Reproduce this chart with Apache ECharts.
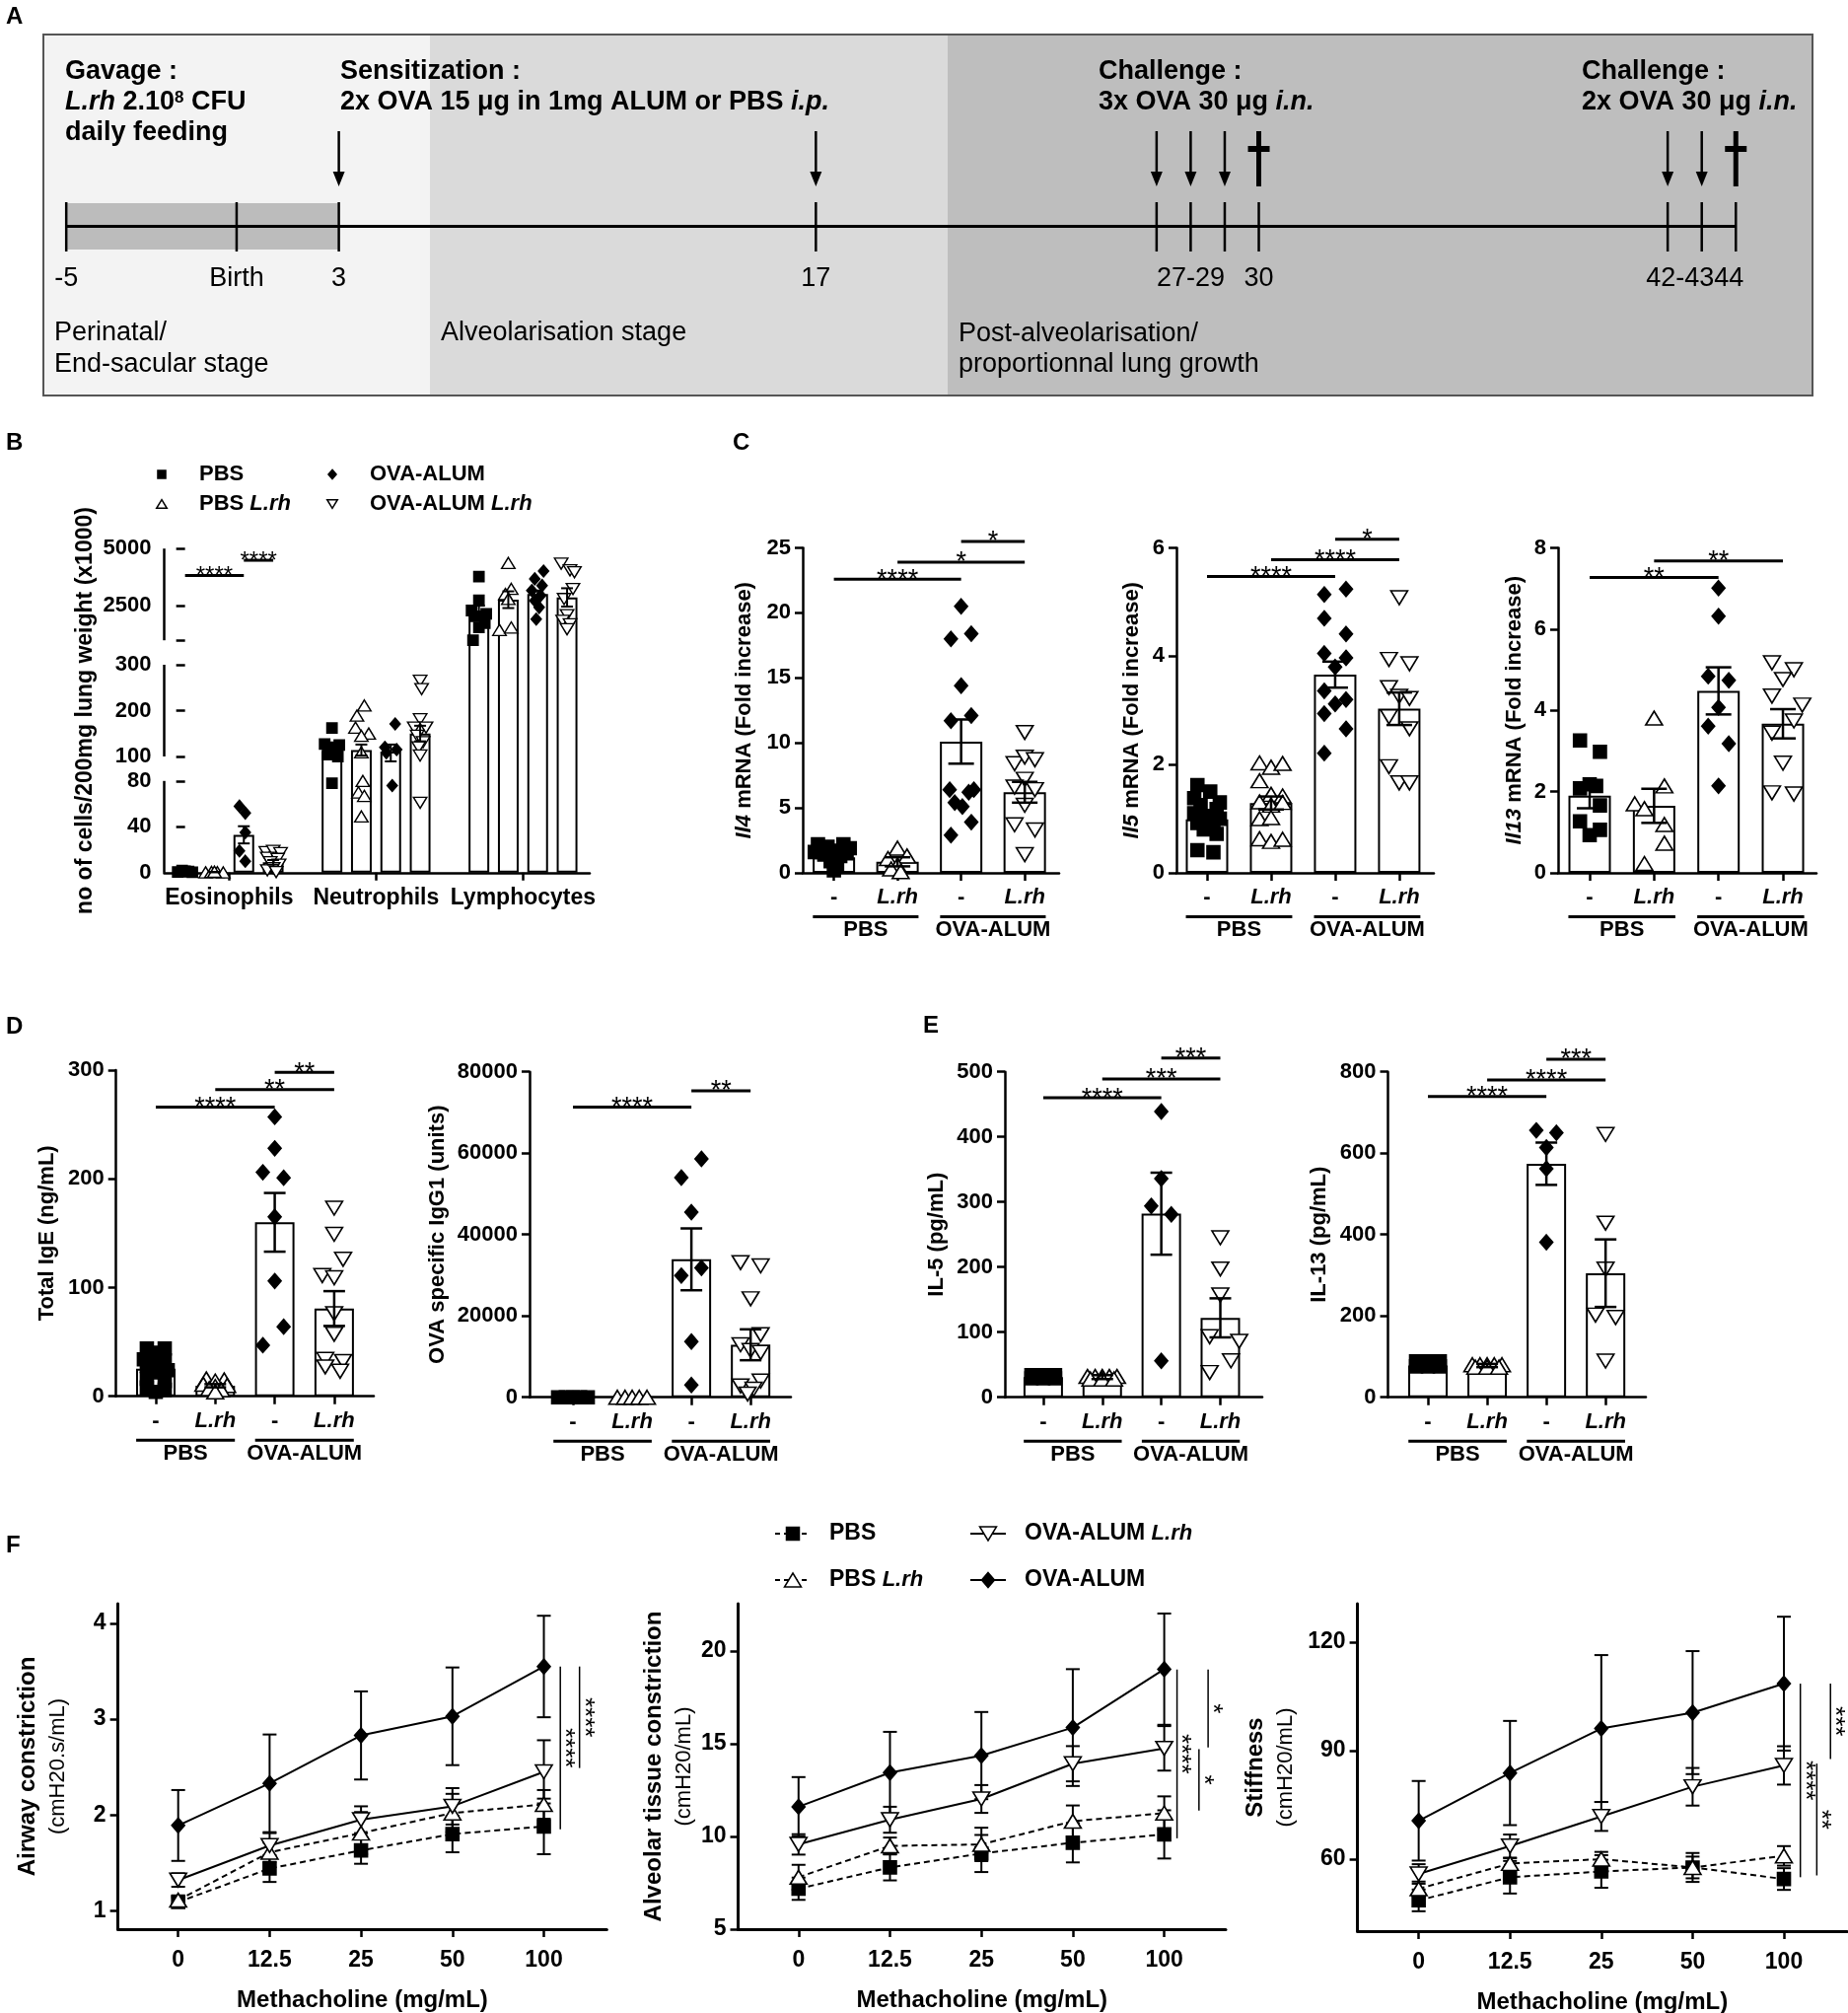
<!DOCTYPE html>
<html>
<head>
<meta charset="utf-8">
<title>Figure</title>
<script src="https://cdn.jsdelivr.net/npm/echarts@6.0.0/dist/echarts.min.js"></script>
<style>
  html, body { margin: 0; padding: 0; background: #fff; }
  #fig { width: 1874px; height: 2041px; }
</style>
</head>
<body>
<div id="fig"></div>
<script>
const FONT = '"Liberation Sans", Arial, Helvetica, sans-serif';

// ---------------- A : timeline (days) ----------------
const aTickDays = [-5, 0, 3, 17, 27, 28, 29, 30, 42, 43, 44];
const aArrowDays = [3, 17, 27, 28, 29, 42, 43];
const aDaggerDays = [30, 44];
const aLabelDays = [-5, 0, 3, 17, 28, 30, 42.8];
const aLabels = ['-5', 'Birth', '3', '17', '27-29', '30', '42-4344'];

// ---------------- B : cell counts (x1000) ----------------
const bCells = ['Eosinophils', 'Neutrophils', 'Lymphocytes'];
const bMeanPBS = [1, 112, 2290];
const bMeanPBSLrh = [0.5, 114, 2770];
const bMeanOVA = [33, 111, 3020];
const bMeanOVALrh = [9, 150, 2870];
const bSemPBS = [0.3, 9, 220];
const bSemPBSLrh = [0.2, 12, 365];
const bSemOVA = [7.5, 15, 150];
const bSemOVALrh = [2, 17, 400];
const bPtsPBS = [
  [[-0.25, 0.6], [0, 1.2], [0.25, 0.4], [-0.1, 1.8], [0.12, 0.9]],
  [[0, 162], [-0.25, 127], [0.25, 125], [0, 120], [-0.15, 104], [0.2, 100], [0, 78]],
  [[0, 3780], [0, 2740], [-0.25, 2300], [0.25, 2150], [-0.1, 2050], [0.2, 1750], [0, 1560], [-0.2, 1000]]
];
const bPtsPBSLrh = [
  [[-0.3, 0.3], [-0.1, 0.6], [0.1, 0.4], [0.3, 0.2], [0, 0.8]],
  [[0.1, 211], [-0.15, 189], [-0.2, 163], [0.25, 150], [0, 145], [0, 109], [0.05, 80], [-0.1, 70], [0.1, 67], [0, 49]],
  [[0, 4370], [0.1, 3240], [-0.1, 3020], [0, 2800], [-0.3, 1450], [0.1, 1560]]
];
const bPtsOVA = [
  [[-0.15, 58], [0.05, 52], [0.05, 35], [-0.15, 19], [0.05, 10]],
  [[0.15, 171], [-0.2, 120], [0.2, 115], [-0.15, 108], [0.05, 76]],
  [[0.2, 4018], [-0.1, 3680], [0.15, 3390], [-0.2, 3170], [0.1, 2950], [-0.1, 2730], [0.05, 2435], [-0.05, 1920]]
];
const bPtsOVALrh = [
  [[-0.25, 18], [0, 19], [0.25, 17], [-0.2, 13], [0.15, 12], [-0.1, 9], [0.2, 7], [0, 4], [-0.2, 2], [0.1, 0.5]],
  [[0, 265], [0.05, 247], [0, 181], [-0.2, 163], [0.2, 163], [-0.1, 145], [0.1, 131], [-0.05, 120], [0, 102], [0, 61]],
  [[-0.2, 4340], [0.1, 4050], [0.25, 3970], [0.2, 3240], [-0.1, 2800], [0, 2100], [-0.15, 1850], [0.1, 1700], [0, 1480]]
];
const bSig = [[0, 2, 3830, '****'], [2, 3, 4490, '****']];
const bTickVals = [0, 40, 80, 100, 200, 300, 1000, 2500, 5000];
const bLabelVals = [0, 40, 80, 100, 200, 300, 2500, 5000];

// ---------------- C : mRNA ----------------
const barLabels = ['-', 'L.rh', '-', 'L.rh'];
const barGroups = [[0, 1, 'PBS'], [2, 3, 'OVA-ALUM']];

const cIl4Mean = [1.2, 0.85, 10.1, 6.2];
const cIl4Sem = [0.15, 0.35, 1.7, 0.8];
const cIl4PBS = [[-0.25, 2.2], [0.15, 2.2], [-0.1, 2.0], [0.25, 1.9], [-0.3, 1.6], [0, 1.7], [0.2, 1.5], [-0.15, 1.4], [0.1, 1.3], [0, 1.1], [-0.05, 0.9], [0.05, 0.6], [0, 0.2]];
const cIl4PBSLrh = [[0, 1.9], [0.15, 1.3], [-0.15, 1.1], [0, 0.6], [-0.1, 0.3], [0.05, 0.1]];
const cIl4OVA = [[0, 20.5], [-0.16, 18.0], [0.16, 18.4], [0, 14.4], [-0.16, 11.7], [0.16, 12.1], [-0.18, 6.4], [0.12, 6.2], [0.2, 6.4], [-0.1, 5.4], [0.02, 5.1], [0.16, 3.9], [-0.16, 2.9]];
const cIl4OVALrh = [[0, 10.8], [-0.16, 8.4], [0, 8.9], [0.16, 8.7], [0, 7.2], [-0.16, 6.6], [0.16, 6.4], [0, 5.2], [-0.16, 3.7], [0.16, 3.3], [0, 1.4]];
const cIl4Sig = [[0, 2, 22.6, '****'], [1, 3, 23.9, '*'], [2, 3, 25.5, '*']];

const cIl5Mean = [0.99, 1.29, 3.66, 3.03];
const cIl5Sem = [0.08, 0.12, 0.24, 0.3];
const cIl5PBS = [[-0.15, 1.62], [0.05, 1.5], [-0.2, 1.38], [0.2, 1.3], [-0.1, 1.25], [0.15, 1.18], [-0.2, 1.1], [0, 1.05], [0.2, 1.0], [-0.15, 0.92], [0.1, 0.86], [-0.05, 0.8], [0.15, 0.72], [-0.15, 0.42], [0.1, 0.38]];
const cIl5PBSLrh = [[-0.18, 2.03], [0, 1.95], [0.18, 2.02], [-0.18, 1.7], [0, 1.45], [0.18, 1.42], [-0.18, 1.31], [0, 1.25], [0.18, 1.3], [-0.18, 1.0], [0, 1.02], [-0.18, 0.63], [0, 0.58], [0.18, 0.62]];
const cIl5OVA = [[-0.17, 5.14], [0.17, 5.24], [-0.17, 4.7], [0.17, 4.41], [-0.17, 4.05], [0.17, 3.97], [0, 3.8], [-0.17, 3.36], [0, 3.12], [0.17, 3.2], [-0.17, 2.94], [0.17, 2.66], [-0.17, 2.21]];
const cIl5OVALrh = [[0, 5.08], [-0.16, 3.94], [0.16, 3.86], [-0.16, 3.42], [0, 3.26], [0.16, 3.22], [-0.16, 2.88], [0.16, 2.66], [-0.16, 1.96], [0, 1.66], [0.16, 1.66]];
const cIl5Sig = [[0, 2, 5.47, '****'], [1, 3, 5.78, '****'], [2, 3, 6.16, '*']];

const cIl13Mean = [1.9, 1.65, 4.48, 3.67];
const cIl13Sem = [0.31, 0.42, 0.58, 0.36];
const cIl13PBS = [[-0.15, 3.26], [0.16, 2.98], [-0.15, 2.08], [0, 2.18], [0.1, 2.14], [0.16, 1.66], [-0.15, 1.27], [0.16, 1.06], [0, 0.93]];
const cIl13PBSLrh = [[0, 3.81], [0.16, 2.14], [-0.3, 1.7], [-0.15, 1.58], [0.16, 1.19], [0.16, 0.73], [-0.15, 0.23]];
const cIl13OVA = [[0, 7.01], [0, 6.32], [-0.16, 4.84], [0.16, 4.74], [0, 4.07], [-0.16, 3.61], [0.16, 3.18], [0, 2.14]];
const cIl13OVALrh = [[-0.17, 5.17], [0.17, 5.0], [0, 4.76], [-0.17, 4.35], [0.3, 4.13], [0.17, 3.74], [-0.17, 3.44], [0, 2.7], [-0.17, 1.97], [0.17, 1.94]];
const cIl13Sig = [[0, 2, 7.27, '**'], [1, 3, 7.68, '**']];

// ---------------- D : immunoglobulins ----------------
const dIgEMean = [25.4, 9.7, 160, 80.7];
const dIgESem = [4, 1.5, 27, 16];
const dIgEPBS = [[-0.15, 44], [0.15, 44], [0, 40], [-0.2, 34], [0.15, 33], [0, 30], [-0.15, 28], [0.2, 24], [0, 22], [-0.15, 16], [0.15, 14], [-0.15, 8], [0.15, 6], [0, 4]];
const dIgEPBSLrh = [[-0.15, 16], [0.15, 15], [0, 14], [-0.2, 11], [0.2, 10], [0, 9], [-0.1, 7], [0.1, 6], [0, 4]];
const dIgEOVA = [[0, 257], [0, 228], [-0.2, 206], [0.15, 201], [0, 165], [0, 106], [0.15, 64], [-0.2, 47]];
const dIgEOVALrh = [[0, 173], [0, 149], [0.15, 126], [-0.2, 111], [0, 109], [0, 76], [0, 57], [-0.15, 34], [0.15, 32], [-0.15, 27], [0.1, 23]];
const dIgESig = [[0, 2, 266, '****'], [1, 3, 282, '**'], [2, 3, 298, '**']];

const dIgG1Mean = [0, 0, 33900, 12900];
const dIgG1Sem = [0, 0, 7600, 3800];
const dIgG1PBS = [[-0.25, 0], [-0.12, 0], [0, 0], [0.12, 0], [0.25, 0]];
const dIgG1PBSLrh = [[-0.25, 0], [-0.12, 0], [0, 0], [0.12, 0], [0.25, 0]];
const dIgG1OVA = [[0.17, 58600], [-0.17, 54000], [0, 45500], [0.17, 31800], [-0.17, 29900], [0, 13700], [0, 3000]];
const dIgG1OVALrh = [[-0.17, 33100], [0.17, 32300], [0, 24200], [0.17, 15400], [-0.17, 12900], [0, 11500], [0.17, 11000], [0.17, 4000], [-0.17, 2800], [0.05, 2000], [-0.05, 800]];
const dIgG1Sig = [[0, 2, 71350, '****'], [2, 3, 75310, '**']];

// ---------------- E : cytokines ----------------
const eIl5Mean = [31, 31, 282, 122];
const eIl5Sem = [3, 3, 63, 30];
const eIl5PBS = [[-0.2, 34], [0, 34], [0.2, 34], [-0.2, 29], [0, 29], [0.2, 29]];
const eIl5PBSLrh = [[-0.25, 32], [-0.12, 32], [0, 32], [0.12, 32], [0.25, 32], [-0.2, 28], [0, 28], [0.2, 28]];
const eIl5OVA = [[0, 439], [0, 336], [-0.17, 294], [0.17, 281], [0, 56]];
const eIl5OVALrh = [[0, 245], [0, 197], [0, 157], [-0.18, 93], [0.32, 86], [0.18, 56], [-0.18, 38]];
const eIl5Sig = [[0, 2, 460, '****'], [1, 3, 489, '***'], [2, 3, 521, '***']];

const eIl13Mean = [78, 78, 574, 305];
const eIl13Sem = [4, 4, 52, 83];
const eIl13PBS = [[-0.2, 88], [0, 88], [0.2, 88], [-0.2, 76], [0, 76], [0.2, 76]];
const eIl13PBSLrh = [[-0.25, 80], [-0.12, 80], [0, 80], [0.12, 80], [0.25, 80], [-0.2, 74], [0, 74], [0.2, 74]];
const eIl13OVA = [[-0.17, 656], [0.17, 650], [0, 614], [0, 562], [0, 381]];
const eIl13OVALrh = [[0, 646], [0, 428], [0, 315], [-0.17, 202], [0.17, 196], [0, 89]];
const eIl13Sig = [[0, 2, 739, '****'], [1, 3, 780, '****'], [2, 3, 831, '***']];

// ---------------- F : lung function ----------------
const fDoses = ['0', '12.5', '25', '50', '100'];
const fAirPBS = [1.09, 1.44, 1.63, 1.80, 1.88];
const fAirPBSSem = [0.05, 0.14, 0.14, 0.19, 0.29];
const fAirPBSLrh = [1.11, 1.61, 1.81, 2.02, 2.11];
const fAirPBSLrhSem = [0.05, 0.10, 0.22, 0.20, 0.15];
const fAirOVALrh = [1.32, 1.68, 1.95, 2.09, 2.45];
const fAirOVALrhSem = [0.07, 0.13, 0.14, 0.19, 0.33];
const fAirOVA = [1.89, 2.33, 2.83, 3.03, 3.55];
const fAirOVASem = [0.37, 0.51, 0.46, 0.51, 0.53];
const fAirSig = [[4.18, 3.55, 1.85, '****'], [4.39, 3.55, 2.49, '****']];

const fAlvPBS = [7.18, 8.33, 9.08, 9.66, 10.11];
const fAlvPBSSem = [0.6, 0.7, 1.0, 1.06, 1.3];
const fAlvPBSLrh = [7.8, 9.49, 9.57, 10.82, 11.26];
const fAlvPBSLrhSem = [0.67, 0.45, 0.9, 0.85, 0.9];
const fAlvOVALrh = [9.57, 10.9, 12.02, 13.92, 14.75];
const fAlvOVALrhSem = [0.55, 0.7, 0.75, 0.95, 1.2];
const fAlvOVA = [11.6, 13.44, 14.36, 15.87, 19.02];
const fAlvOVASem = [1.6, 2.2, 2.35, 3.15, 3.0];
const fAlvSig = [[4.14, 19.0, 9.9, '****'], [4.48, 19.0, 14.8, '*'], [4.38, 14.7, 11.4, '*']];

const fStiPBS = [48.6, 55, 56.6, 57.7, 54.5];
const fStiPBSSem = [3, 4.5, 4.5, 4, 3];
const fStiPBSLrh = [51.8, 58.8, 60, 57.7, 60.9];
const fStiPBSLrhSem = [2, 1.5, 2, 3, 2.7];
const fStiOVALrh = [55.9, 63.6, 71.8, 80, 85.9];
const fStiOVALrhSem = [2.7, 3.2, 4, 5.2, 5.3];
const fStiOVA = [70.6, 83.8, 96.1, 100.5, 108.5];
const fStiOVASem = [11, 14.4, 20.3, 17, 18.5];
const fStiSig = [[4.18, 108.5, 55, '****'], [4.36, 86.4, 55.5, '**'], [4.51, 108.5, 87.7, '***']];

// ---------------- shared styles ----------------
const AX = { color: '#000', width: 2.5 };
const MARK = [
  { symbol: 'rect', fill: '#000', rotate: 0 },      // PBS
  { symbol: 'triangle', fill: '#fff', rotate: 0 },  // PBS L.rh
  { symbol: 'diamond', fill: '#000', rotate: 0 },   // OVA-ALUM
  { symbol: 'triangle', fill: '#fff', rotate: 180 } // OVA-ALUM L.rh
];
function markSize(i, k) {
  if (i === 0) return [13 * k, 13 * k];
  if (i === 2) return [13 * k, 15 * k];
  return [17 * k, 14 * k];
}
const richLabel = {
  n: { fontFamily: FONT, fontWeight: 'bold', fontSize: 22, color: '#000' },
  i: { fontFamily: FONT, fontWeight: 'bold', fontStyle: 'italic', fontSize: 22, color: '#000' }
};

const grids = [], xAxes = [], yAxes = [], series = [], graphics = [];

function errorBars(capW, lw) {
  return function (params, api) {
    const x = api.value(0);
    const lo = api.coord([x, api.value(1)]);
    const hi = api.coord([x, api.value(2)]);
    const st = () => ({ stroke: '#000', lineWidth: lw });
    return { type: 'group', children: [
      { type: 'line', shape: { x1: lo[0], y1: lo[1], x2: hi[0], y2: hi[1] }, style: st() },
      { type: 'line', shape: { x1: hi[0] - capW / 2, y1: hi[1], x2: hi[0] + capW / 2, y2: hi[1] }, style: st() },
      { type: 'line', shape: { x1: lo[0] - capW / 2, y1: lo[1], x2: lo[0] + capW / 2, y2: lo[1] }, style: st() }
    ] };
  };
}

function sigBars(list, fs) {
  return function (params, api) {
    const s = list[params.dataIndex];
    const a = api.coord([s[0], s[2]]), b = api.coord([s[1], s[2]]);
    return { type: 'group', children: [
      { type: 'line', shape: { x1: a[0], y1: a[1], x2: b[0], y2: b[1] }, style: { stroke: '#000', lineWidth: 3 } },
      { type: 'text', x: (a[0] + b[0]) / 2, y: a[1] + 1,
        style: { text: s[3], font: fs + 'px ' + FONT, fill: '#000', textAlign: 'center', textVerticalAlign: 'middle' } }
    ] };
  };
}

function groupLabels(params, api) {
  const g = barGroups[params.dataIndex];
  const a = api.coord([g[0] - 0.33, 0]), b = api.coord([g[1] + 0.33, 0]);
  return { type: 'group', children: [
    { type: 'line', shape: { x1: a[0], y1: a[1] + 44.5, x2: b[0], y2: a[1] + 44.5 }, style: { stroke: '#000', lineWidth: 3 } },
    { type: 'text', x: (a[0] + b[0]) / 2, y: a[1] + 58,
      style: { text: g[2], font: 'bold 22px ' + FONT, fill: '#000', textAlign: 'center', textVerticalAlign: 'middle' } }
  ] };
}

function sigVertical(list) {
  return function (params, api) {
    const s = list[params.dataIndex];
    const a = api.coord([s[0], s[1]]), b = api.coord([s[0], s[2]]);
    return { type: 'group', children: [
      { type: 'line', shape: { x1: a[0], y1: a[1], x2: b[0], y2: b[1] }, style: { stroke: '#000', lineWidth: 1.5 } },
      { type: 'text', x: a[0] + 4, y: (a[1] + b[1]) / 2, rotation: -Math.PI / 2,
        style: { text: s[3], font: '26px ' + FONT, fill: '#000', textAlign: 'center', textVerticalAlign: 'middle' } }
    ] };
  };
}

// ---------------- panel A ----------------
grids.push({ left: 43, top: 35, width: 1795, height: 366, outerBoundsMode: 'none' });
xAxes.push({ type: 'value', gridIndex: 0, min: -5.7, max: 46.25, show: false });
yAxes.push({ type: 'value', gridIndex: 0, min: 0, max: 1, show: false });
const TL = 229.5;
series.push({
  type: 'custom', xAxisIndex: 0, yAxisIndex: 0, silent: true, z: 2,
  data: [[-5, 0]],
  renderItem: (params, api) => {
    const a = api.coord([-5, 0])[0], b = api.coord([3, 0])[0], c = api.coord([44, 0])[0];
    return { type: 'group', children: [
      { type: 'rect', shape: { x: a, y: 206, width: b - a, height: 47 }, style: { fill: '#bcbcbc' } },
      { type: 'line', shape: { x1: a, y1: TL, x2: c, y2: TL }, style: { stroke: '#000', lineWidth: 3 } }
    ] };
  }
});
series.push({
  type: 'custom', xAxisIndex: 0, yAxisIndex: 0, silent: true, z: 3,
  data: aTickDays.map(d => [d, 0]),
  renderItem: (params, api) => {
    const x = api.coord([api.value(0), 0])[0];
    return { type: 'line', shape: { x1: x, y1: 205, x2: x, y2: 255 }, style: { stroke: '#000', lineWidth: 2.5 } };
  }
});
series.push({
  type: 'custom', xAxisIndex: 0, yAxisIndex: 0, silent: true, z: 3,
  data: aArrowDays.map(d => [d, 0]),
  renderItem: (params, api) => {
    const x = api.coord([api.value(0), 0])[0];
    return { type: 'group', children: [
      { type: 'line', shape: { x1: x, y1: 133, x2: x, y2: 178 }, style: { stroke: '#000', lineWidth: 2.5 } },
      { type: 'polygon', shape: { points: [[x - 6, 174], [x + 6, 174], [x, 189]] }, style: { fill: '#000' } }
    ] };
  }
});
series.push({
  type: 'custom', xAxisIndex: 0, yAxisIndex: 0, silent: true, z: 3,
  data: aDaggerDays.map(d => [d, 0]),
  renderItem: (params, api) => {
    const x = api.coord([api.value(0), 0])[0];
    return { type: 'group', children: [
      { type: 'rect', shape: { x: x - 2.5, y: 133, width: 5, height: 56 }, style: { fill: '#000' } },
      { type: 'rect', shape: { x: x - 11, y: 148, width: 22, height: 6 }, style: { fill: '#000' } }
    ] };
  }
});
series.push({
  type: 'custom', xAxisIndex: 0, yAxisIndex: 0, silent: true, z: 3,
  data: aLabelDays.map(d => [d, 0]),
  renderItem: (params, api) => {
    const x = api.coord([api.value(0), 0])[0];
    return { type: 'text', x: x, y: 283,
      style: { text: aLabels[params.dataIndex], font: '27px ' + FONT, fill: '#000', textAlign: 'center', textVerticalAlign: 'middle' } };
  }
});

// background of the timeline box
graphics.push(
  { type: 'rect', z: 0, silent: true, shape: { x: 45, y: 36, width: 391, height: 364 }, style: { fill: '#f3f3f3' } },
  { type: 'rect', z: 0, silent: true, shape: { x: 436, y: 36, width: 525, height: 364 }, style: { fill: '#dadada' } },
  { type: 'rect', z: 0, silent: true, shape: { x: 961, y: 36, width: 876, height: 364 }, style: { fill: '#bebebe' } },
  { type: 'rect', z: 1, silent: true, shape: { x: 44, y: 35, width: 1794, height: 366 }, style: { fill: 'none', stroke: '#555', lineWidth: 2 } }
);
const richA = {
  i: { fontFamily: FONT, fontWeight: 'bold', fontStyle: 'italic', fontSize: 27 },
  s: { fontFamily: FONT, fontWeight: 'bold', fontSize: 17, verticalAlign: 'top' }
};
function txt(x, y, text, font, extra) {
  return { type: 'text', x: x, y: y, z: 5, silent: true,
    style: Object.assign({ text: text, font: font, fill: '#000', textAlign: 'left', textVerticalAlign: 'middle' }, extra || {}) };
}
const AB = 'bold 27px ' + FONT, AR = '27px ' + FONT;
graphics.push(
  txt(66, 73, 'Gavage :', AB),
  txt(66, 104, '{i|L.rh} 2.10{s|8} CFU', AB, { rich: richA }),
  txt(66, 135, 'daily feeding', AB),
  txt(345, 73, 'Sensitization :', AB),
  txt(345, 104, '2x OVA 15 μg in 1mg ALUM or PBS {i|i.p.}', AB, { rich: richA }),
  txt(1114, 73, 'Challenge :', AB),
  txt(1114, 104, '3x OVA 30 μg {i|i.n.}', AB, { rich: richA }),
  txt(1604, 73, 'Challenge :', AB),
  txt(1604, 104, '2x OVA 30 μg {i|i.n.}', AB, { rich: richA }),
  txt(55, 338, 'Perinatal/', AR),
  txt(55, 370, 'End-sacular stage', AR),
  txt(447, 338, 'Alveolarisation stage', AR),
  txt(972, 339, 'Post-alveolarisation/', AR),
  txt(972, 370, 'proportionnal lung growth', AR)
);

// panel letters
const PL = 'bold 24px ' + FONT;
graphics.push(
  txt(6, 17, 'A', PL), txt(6, 449, 'B', PL), txt(743, 449, 'C', PL),
  txt(6, 1041, 'D', PL), txt(936, 1040, 'E', PL), txt(6, 1567, 'F', PL)
);

// ---------------- panel B (broken y axis) ----------------
const SEG = 93, GAP = 24.8;
function brk(v) {
  if (v <= 80) return v * SEG / 80;
  if (v <= 100) return SEG + (v - 80) / 20 * GAP;
  if (v <= 300) return SEG + GAP + (v - 100) / 200 * SEG;
  if (v <= 1000) return 2 * SEG + GAP + (v - 300) / 700 * GAP;
  return 2 * SEG + 2 * GAP + (v - 1000) / 4000 * SEG;
}
(function () {
  const k = grids.length;
  const h = 3 * SEG + 2 * GAP;
  grids.push({ left: 166.5, top: 884.8 - h, width: 431.5, height: h, outerBoundsMode: 'none' });
  xAxes.push({
    type: 'value', gridIndex: k, min: -0.71, max: 13.77,
    axisLine: { onZero: false, lineStyle: AX },
    axisTick: { customValues: [1.5, 6.5, 11.5], length: 8, lineStyle: AX },
    axisLabel: { customValues: [1.5, 6.5, 11.5], margin: 14, color: '#000', fontFamily: FONT, fontWeight: 'bold', fontSize: 23,
      formatter: v => bCells[Math.round((v - 1.5) / 5)] },
    splitLine: { show: false }
  });
  yAxes.push({
    type: 'value', gridIndex: k, min: 0, max: h,
    axisLine: { show: false },
    axisTick: { show: true, customValues: bTickVals.map(brk), length: 9, lineStyle: AX },
    axisLabel: { customValues: bLabelVals.map(brk), margin: 13, color: '#000', fontFamily: FONT, fontWeight: 'bold', fontSize: 22,
      formatter: u => { const v = bLabelVals.find(t => Math.abs(brk(t) - u) < 0.5); return v === undefined ? '' : String(v); } },
    splitLine: { show: false },
    name: 'no of cells/200mg lung weight (x1000)', nameLocation: 'middle', nameGap: 68, nameRotate: 90,
    nameTextStyle: { color: '#000', fontFamily: FONT, fontWeight: 'bold', fontSize: 23 }
  });
  // axis line drawn in three pieces
  series.push({
    type: 'custom', xAxisIndex: k, yAxisIndex: k, silent: true, z: 5,
    data: [[0, 80], [100, 300], [1000, 5000]],
    renderItem: (params, api) => {
      const a = api.coord([-0.71, brk(api.value(0))]), b = api.coord([-0.71, brk(api.value(1))]);
      return { type: 'line', shape: { x1: a[0], y1: a[1], x2: b[0], y2: b[1] }, style: { stroke: '#000', lineWidth: 2.5 } };
    }
  });
  const means = [bMeanPBS, bMeanPBSLrh, bMeanOVA, bMeanOVALrh];
  const sems = [bSemPBS, bSemPBSLrh, bSemOVA, bSemOVALrh];
  const pts = [bPtsPBS, bPtsPBSLrh, bPtsOVA, bPtsOVALrh];
  const barData = [], errData = [];
  means.forEach((m, g) => m.forEach((v, c) => {
    barData.push([c * 5 + g, brk(v)]);
    errData.push([c * 5 + g, brk(Math.max(0, v - sems[g][c])), brk(v + sems[g][c])]);
  }));
  series.push({ type: 'bar', xAxisIndex: k, yAxisIndex: k, data: barData, barWidth: 21, silent: true, z: 2,
    itemStyle: { color: '#fff', borderColor: '#000', borderWidth: 2 } });
  pts.forEach((grp, g) => {
    const data = [];
    grp.forEach((list, c) => list.forEach(p => data.push([c * 5 + g + p[0], brk(p[1])])));
    series.push({ type: 'scatter', xAxisIndex: k, yAxisIndex: k, data: data, silent: true, z: 3, clip: false,
      symbol: MARK[g].symbol, symbolRotate: MARK[g].rotate, symbolSize: markSize(g, 0.8),
      itemStyle: { color: MARK[g].fill, borderColor: '#000', borderWidth: 1.4, opacity: 1 } });
  });
  series.push({ type: 'custom', xAxisIndex: k, yAxisIndex: k, silent: true, z: 4, data: errData, renderItem: errorBars(12, 2) });
  const sig = bSig.map(s => [s[0], s[1], brk(s[2]), s[3]]);
  series.push({ type: 'custom', xAxisIndex: k, yAxisIndex: k, silent: true, z: 4,
    data: sig.map(s => [s[0], s[2]]), renderItem: sigBars(sig, 24) });
})();

// B legend (markers only)
function symbolShape(i, cx, cy, k) {
  const sz = markSize(i, k), w = sz[0], h = sz[1];
  const st = { fill: MARK[i].fill, stroke: '#000', lineWidth: 1.5 };
  if (i === 0) return { type: 'rect', z: 6, shape: { x: cx - w / 2, y: cy - h / 2, width: w, height: h }, style: st };
  if (i === 2) return { type: 'polygon', z: 6, shape: { points: [[cx, cy - h / 2], [cx + w / 2, cy], [cx, cy + h / 2], [cx - w / 2, cy]] }, style: st };
  if (i === 1) return { type: 'polygon', z: 6, shape: { points: [[cx, cy - h / 2], [cx + w / 2, cy + h / 2], [cx - w / 2, cy + h / 2]] }, style: st };
  return { type: 'polygon', z: 6, shape: { points: [[cx - w / 2, cy - h / 2], [cx + w / 2, cy - h / 2], [cx, cy + h / 2]] }, style: st };
}
const richLeg = { i: { fontFamily: FONT, fontWeight: 'bold', fontStyle: 'italic', fontSize: 22 } };
const LB = 'bold 22px ' + FONT;
graphics.push(
  symbolShape(0, 164, 481, 0.62), txt(202, 481, 'PBS', LB),
  symbolShape(2, 337, 481, 0.62), txt(375, 481, 'OVA-ALUM', LB),
  symbolShape(1, 164, 511, 0.62), txt(202, 511, 'PBS {i|L.rh}', LB, { rich: richLeg }),
  symbolShape(3, 337, 511, 0.62), txt(375, 511, 'OVA-ALUM {i|L.rh}', LB, { rich: richLeg })
);

// ---------------- bar panels C, D, E ----------------
function addBarPanel(p) {
  const k = grids.length;
  grids.push({ left: p.left, top: p.top, width: p.width, height: p.height, outerBoundsMode: 'none' });
  xAxes.push({
    type: 'value', gridIndex: k, min: p.xmin, max: p.xmax,
    axisLine: { onZero: false, lineStyle: AX },
    axisTick: { customValues: [0, 1, 2, 3], length: 8, lineStyle: AX },
    axisLabel: { customValues: [0, 1, 2, 3], margin: 14,
      formatter: v => barLabels[Math.round(v)] === '-' ? '{n|-}' : '{i|L.rh}', rich: richLabel },
    splitLine: { show: false }
  });
  yAxes.push({
    type: 'value', gridIndex: k, min: 0, max: p.ymax, interval: p.interval,
    axisLine: { show: true, onZero: false, lineStyle: AX },
    axisTick: { show: true, length: 8, lineStyle: AX },
    axisLabel: { margin: 12, color: '#000', fontFamily: FONT, fontWeight: 'bold', fontSize: 22, formatter: v => String(v) },
    splitLine: { show: false },
    name: p.title, nameLocation: 'middle', nameGap: p.nameGap, nameRotate: 90,
    nameTextStyle: { color: '#000', fontFamily: FONT, fontWeight: 'bold', fontSize: 22, rich: richLabel }
  });
  series.push({ type: 'bar', xAxisIndex: k, yAxisIndex: k, data: p.means.map((m, i) => [i, m]),
    barWidth: p.barWidth, silent: true, z: 2, itemStyle: { color: '#fff', borderColor: '#000', borderWidth: 2 } });
  p.pts.forEach((list, g) => {
    series.push({ type: 'scatter', xAxisIndex: k, yAxisIndex: k, silent: true, z: 3, clip: false,
      data: list.map(pt => [g + pt[0], pt[1]]),
      symbol: MARK[g].symbol, symbolRotate: MARK[g].rotate, symbolSize: markSize(g, 1),
      itemStyle: { color: MARK[g].fill, borderColor: '#000', borderWidth: 1.6, opacity: 1 } });
  });
  series.push({ type: 'custom', xAxisIndex: k, yAxisIndex: k, silent: true, z: 4,
    data: p.means.map((m, i) => [i, m - p.sem[i], m + p.sem[i]]).filter(d => d[2] > d[1]),
    renderItem: errorBars(p.capW, 2.5) });
  series.push({ type: 'custom', xAxisIndex: k, yAxisIndex: k, silent: true, z: 4,
    data: p.sig.map(s => [s[0], s[2]]), renderItem: sigBars(p.sig, 27) });
  series.push({ type: 'custom', xAxisIndex: k, yAxisIndex: k, silent: true, z: 4,
    data: barGroups.map(g => [g[0], 0]), renderItem: groupLabels });
}

addBarPanel({ left: 814, top: 555.5, width: 260, height: 329.5, xmin: -0.49, xmax: 3.54, ymax: 25, interval: 5,
  title: '{i|Il4}{n| mRNA (Fold increase)}', nameGap: 48, barWidth: 43, capW: 26,
  means: cIl4Mean, sem: cIl4Sem, pts: [cIl4PBS, cIl4PBSLrh, cIl4OVA, cIl4OVALrh], sig: cIl4Sig });
addBarPanel({ left: 1193, top: 555.5, width: 261, height: 329.5, xmin: -0.477, xmax: 3.54, ymax: 6, interval: 2,
  title: '{i|Il5}{n| mRNA (Fold increase)}', nameGap: 34, barWidth: 43, capW: 26,
  means: cIl5Mean, sem: cIl5Sem, pts: [cIl5PBS, cIl5PBSLrh, cIl5OVA, cIl5OVALrh], sig: cIl5Sig });
addBarPanel({ left: 1580, top: 555.5, width: 262, height: 329.5, xmin: -0.49, xmax: 3.52, ymax: 8, interval: 2,
  title: '{i|Il13}{n| mRNA (Fold increase)}', nameGap: 33, barWidth: 43, capW: 26,
  means: cIl13Mean, sem: cIl13Sem, pts: [cIl13PBS, cIl13PBSLrh, cIl13OVA, cIl13OVALrh], sig: cIl13Sig });
addBarPanel({ left: 117.7, top: 1085, width: 261.3, height: 330.7, xmin: -0.668, xmax: 3.665, ymax: 300, interval: 100,
  title: '{n|Total IgE (ng/mL)}', nameGap: 59, barWidth: 40, capW: 22,
  means: dIgEMean, sem: dIgESem, pts: [dIgEPBS, dIgEPBSLrh, dIgEOVA, dIgEOVALrh], sig: dIgESig });
addBarPanel({ left: 537, top: 1086.7, width: 265, height: 330, xmin: -0.733, xmax: 3.68, ymax: 80000, interval: 20000,
  title: '{n|OVA specific IgG1 (units)}', nameGap: 82, barWidth: 40, capW: 22,
  means: dIgG1Mean, sem: dIgG1Sem, pts: [dIgG1PBS, dIgG1PBSLrh, dIgG1OVA, dIgG1OVALrh], sig: dIgG1Sig });
addBarPanel({ left: 1019, top: 1086.7, width: 261, height: 330, xmin: -0.65, xmax: 3.71, ymax: 500, interval: 100,
  title: '{n|IL-5 (pg/mL)}', nameGap: 58, barWidth: 40, capW: 22,
  means: eIl5Mean, sem: eIl5Sem, pts: [eIl5PBS, eIl5PBSLrh, eIl5OVA, eIl5OVALrh], sig: eIl5Sig });
addBarPanel({ left: 1407.5, top: 1086.7, width: 261.5, height: 330, xmin: -0.675, xmax: 3.68, ymax: 800, interval: 200,
  title: '{n|IL-13 (pg/mL)}', nameGap: 59, barWidth: 40, capW: 22,
  means: eIl13Mean, sem: eIl13Sem, pts: [eIl13PBS, eIl13PBSLrh, eIl13OVA, eIl13OVALrh], sig: eIl13Sig });

// ---------------- panel F (line charts) ----------------
const richF = {
  b: { fontFamily: FONT, fontWeight: 'bold', fontSize: 24, color: '#000', lineHeight: 30 },
  r: { fontFamily: FONT, fontSize: 22, color: '#000', lineHeight: 30 }
};
function addLinePanel(p) {
  const k = grids.length;
  grids.push({ left: p.left, top: 1626, width: p.width, height: p.height, outerBoundsMode: 'none' });
  xAxes.push({
    type: 'value', gridIndex: k, min: p.xmin, max: p.xmax,
    axisLine: { onZero: false, lineStyle: { color: '#000', width: 3 } },
    axisTick: { customValues: [0, 1, 2, 3, 4], length: 8, lineStyle: { color: '#000', width: 2.5 } },
    axisLabel: { customValues: [0, 1, 2, 3, 4], margin: 20, color: '#000', fontFamily: FONT, fontWeight: 'bold', fontSize: 23,
      formatter: v => fDoses[Math.round(v)] },
    splitLine: { show: false },
    name: 'Methacholine (mg/mL)', nameLocation: 'middle', nameGap: 60,
    nameTextStyle: { color: '#000', fontFamily: FONT, fontWeight: 'bold', fontSize: 24 }
  });
  yAxes.push({
    type: 'value', gridIndex: k, min: p.ymin, max: p.ymax,
    axisLine: { show: true, onZero: false, lineStyle: { color: '#000', width: 3 } },
    axisTick: { show: true, customValues: p.ticks, length: 8, lineStyle: { color: '#000', width: 2.5 } },
    axisLabel: { customValues: p.ticks, margin: 12, color: '#000', fontFamily: FONT, fontWeight: 'bold', fontSize: 23, formatter: v => String(v) },
    splitLine: { show: false },
    name: p.title, nameLocation: 'middle', nameGap: p.nameGap, nameRotate: 90,
    nameTextStyle: { rich: richF }
  });
  // draw order: PBS, PBS L.rh, OVA-ALUM L.rh, OVA-ALUM
  const order = [0, 1, 3, 2];
  order.forEach(g => {
    const vals = p.vals[g], sem = p.sem[g];
    series.push({ type: 'custom', xAxisIndex: k, yAxisIndex: k, silent: true, z: 2,
      data: vals.map((v, i) => [i, v - sem[i], v + sem[i]]), renderItem: errorBars(14, 2) });
    series.push({ type: 'line', xAxisIndex: k, yAxisIndex: k, silent: true, z: 3, clip: false,
      data: vals.map((v, i) => [i, v]),
      symbol: MARK[g].symbol, symbolRotate: MARK[g].rotate, symbolSize: markSize(g, 1),
      lineStyle: { color: '#000', width: 2, type: g < 2 ? [6, 4] : 'solid' },
      itemStyle: { color: MARK[g].fill, borderColor: '#000', borderWidth: 1.6 } });
  });
  series.push({ type: 'custom', xAxisIndex: k, yAxisIndex: k, silent: true, z: 4,
    data: p.sig.map(s => [s[0], s[1]]), renderItem: sigVertical(p.sig) });
}

addLinePanel({ left: 119.6, width: 495.7, height: 330, xmin: -0.659, xmax: 4.688, ymin: 0.807, ymax: 4.206,
  ticks: [1, 2, 3, 4], title: '{b|Airway constriction}\n{r|(cmH20.s/mL)}', nameGap: 46,
  vals: [fAirPBS, fAirPBSLrh, fAirOVA, fAirOVALrh], sem: [fAirPBSSem, fAirPBSLrhSem, fAirOVASem, fAirOVALrhSem], sig: fAirSig });
addLinePanel({ left: 748.5, width: 494.5, height: 330, xmin: -0.661, xmax: 4.673, ymin: 5, ymax: 22.55,
  ticks: [5, 10, 15, 20], title: '{b|Alveolar tissue constriction}\n{r|(cmH20/mL)}', nameGap: 40,
  vals: [fAlvPBS, fAlvPBSLrh, fAlvOVA, fAlvOVALrh], sem: [fAlvPBSSem, fAlvPBSLrhSem, fAlvOVASem, fAlvOVALrhSem], sig: fAlvSig });
addLinePanel({ left: 1376.6, width: 496.4, height: 332, xmin: -0.67, xmax: 4.691, ymin: 40.1, ymax: 130.6,
  ticks: [60, 90, 120], title: '{b|Stiffness}\n{r|(cmH20/mL)}', nameGap: 58,
  vals: [fStiPBS, fStiPBSLrh, fStiOVA, fStiOVALrh], sem: [fStiPBSSem, fStiPBSLrhSem, fStiOVASem, fStiOVALrhSem], sig: fStiSig });

// F legend
function legendLine(x1, x2, y, dashed) {
  return { type: 'line', z: 5, silent: true, shape: { x1: x1, y1: y, x2: x2, y2: y },
    style: { stroke: '#000', lineWidth: 2, lineDash: dashed ? [5, 4] : null } };
}
graphics.push(
  legendLine(786, 822, 1555, true), symbolShape(0, 804, 1555, 1), txt(841, 1555, 'PBS', 'bold 23px ' + FONT),
  legendLine(984, 1020, 1555, false), symbolShape(3, 1002, 1555, 1), txt(1039, 1555, 'OVA-ALUM {i|L.rh}', 'bold 23px ' + FONT, { rich: richLeg }),
  legendLine(786, 822, 1602, true), symbolShape(1, 804, 1602, 1), txt(841, 1602, 'PBS {i|L.rh}', 'bold 23px ' + FONT, { rich: richLeg }),
  legendLine(984, 1020, 1602, false), symbolShape(2, 1002, 1602, 1), txt(1039, 1602, 'OVA-ALUM', 'bold 23px ' + FONT)
);

const chart = echarts.init(document.getElementById('fig'), null, { renderer: 'canvas' });
chart.setOption({
  animation: false,
  backgroundColor: '#fff',
  grid: grids,
  xAxis: xAxes,
  yAxis: yAxes,
  series: series,
  graphic: { elements: graphics }
});
</script>
</body>
</html>
